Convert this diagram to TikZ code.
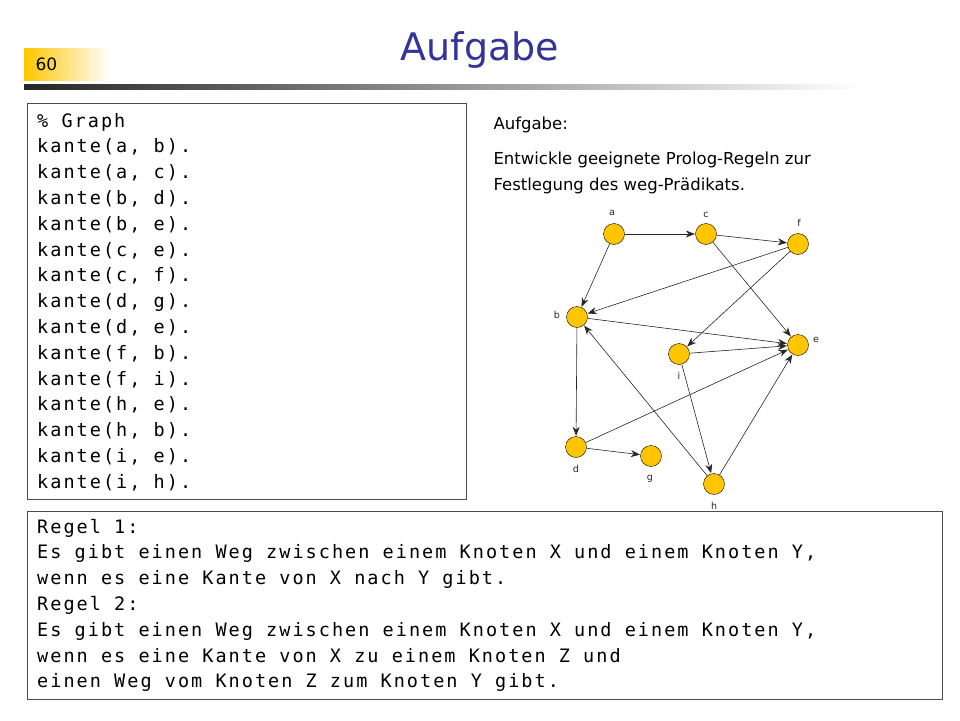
\documentclass[tikz,border=0pt]{standalone}
\usepackage{fontspec}
\setmainfont{DejaVu Sans}
\newfontfamily\codefont[LetterSpace=11]{DejaVu Sans Mono}
\usetikzlibrary{arrows.meta}
\definecolor{titleblue}{HTML}{333399}
\definecolor{nodeyellow}{HTML}{FFC600}

\begin{document}
\begin{tikzpicture}[x=1pt, y=-1pt,
        vertex/.style={circle, draw, fill=nodeyellow, minimum size=21pt, inner sep=0pt},
        lbl/.style={font=\fontsize{9.5}{9.5}\selectfont, text=black!85},
        edge/.style={draw, -{Stealth[length=9pt, width=7pt]}, black!85, semithick, shorten >=0.5pt},
        codeline/.style={anchor=base west, font=\codefont\fontsize{18.5}{20}\selectfont, inner sep=0pt},
        taskline/.style={anchor=base west, font=\fontsize{16.5}{16.5}\selectfont}
    ]
        \useasboundingbox (0,0) rectangle (960,720);

        % Header
        \shade[left color=nodeyellow, right color=white] (24,48) rectangle (110,80);
        \node[anchor=west, font=\fontsize{17}{17}\selectfont] (num) at (32,64) {60};
        \shade[left color=black!85, right color=white] (24,84) rectangle (860,89);
        \node[font=\fontsize{38}{38}\selectfont, text=titleblue] (title) at (480,50) {Aufgabe};

        % Code box
        \draw[black!70] (27,103) rectangle (466,499);
        \foreach \t [count=\k from 0] in {\% Graph, kante(a{,} b)., kante(a{,} c)., kante(b{,} d).,
            kante(b{,} e)., kante(c{,} e)., kante(c{,} f)., kante(d{,} g)., kante(d{,} e).,
            kante(f{,} b)., kante(f{,} i)., kante(h{,} e)., kante(h{,} b)., kante(i{,} e).,
            kante(i{,} h).}
            \node[codeline] (code\k) at (37,127+25.8*\k) {\t};

        % Task text
        \node[taskline] (task) at (490,129) {Aufgabe:};
        \node[taskline] (task1) at (490,164) {Entwickle geeignete Prolog-Regeln zur};
        \node[taskline] (task2) at (490,190) {Festlegung des weg-Prädikats.};

        % Nodes
        \node[vertex] (a) at (614,234) {};
        \node[vertex] (c) at (706,234) {};
        \node[vertex] (f) at (798,244) {};
        \node[vertex] (b) at (577,317) {};
        \node[vertex] (e) at (798,345) {};
        \node[vertex] (i) at (679,354) {};
        \node[vertex] (d) at (576,447) {};
        \node[vertex] (g) at (651,456) {};
        \node[vertex] (h) at (714,484) {};
        \node[lbl] at (612,213) {a};
        \node[lbl] at (706,215) {c};
        \node[lbl] at (799,223) {f};
        \node[lbl] at (557,315) {b};
        \node[lbl] at (816,340) {e};
        \node[lbl] at (679,376) {i};
        \node[lbl] at (576,469) {d};
        \node[lbl] at (650,479) {g};
        \node[lbl] at (714,506) {h};

        % Edges
        \foreach \u/\v in {a/b, a/c, b/d, b/e, c/e, c/f, d/g, d/e, f/b, f/i, h/e, h/b, i/e, i/h}
            \draw[edge] (\u) -- (\v);

        % Rules box
        \draw[black!70] (27,511) rectangle (942,699);
        \foreach \t [count=\k from 0] in {Regel 1:,
            Es gibt einen Weg zwischen einem Knoten X und einem Knoten Y{,},
            wenn es eine Kante von X nach Y gibt.,
            Regel 2:,
            Es gibt einen Weg zwischen einem Knoten X und einem Knoten Y{,},
            wenn es eine Kante von X zu einem Knoten Z und,
            einen Weg vom Knoten Z zum Knoten Y gibt.}
            \node[codeline] (rule\k) at (37,533+25.8*\k) {\t};
    \end{tikzpicture}
\end{document}
